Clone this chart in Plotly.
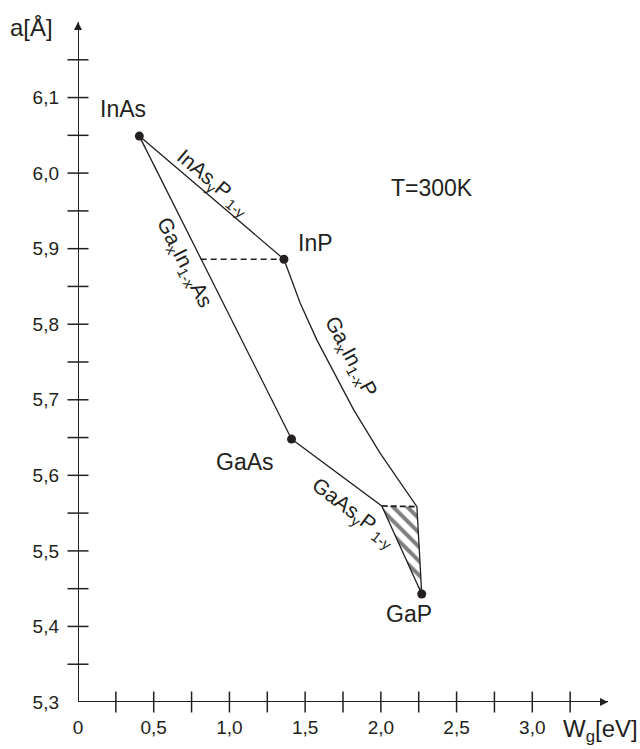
import plotly.graph_objects as go

# ---------------- data ----------------
compounds = ["InAs", "InP", "GaAs", "GaP"]
gap_ev = [0.405, 1.36, 1.41, 2.27]
lattice_a = [6.049, 5.886, 5.648, 5.443]

inasp_x = [0.405, 1.36]
inasp_y = [6.049, 5.886]
gainas_x = [0.405, 1.41]
gainas_y = [6.049, 5.648]
gainp_x = [1.36, 1.467, 1.578, 1.82, 1.996, 2.238, 2.27]
gainp_y = [5.886, 5.828, 5.779, 5.687, 5.629, 5.5585, 5.443]
gaasp_x = [1.41, 2.006, 2.27]
gaasp_y = [5.648, 5.5595, 5.443]
cross_x = [2.006, 2.238, 2.27]
cross_y = [5.5595, 5.5585, 5.443]
dash_x = [0.81, 1.36]
dash_y = [5.886, 5.886]

x_axis_range = [0, 3.5]
y_axis_range = [5.3, 6.2]
x_tick_vals = [0, 0.5, 1.0, 1.5, 2.0, 2.5, 3.0]
x_tick_text = ["0", "0,5", "1,0", "1,5", "2,0", "2,5", "3,0"]
x_tick_marks = [0.25, 0.5, 0.75, 1.0, 1.25, 1.5, 1.75, 2.0, 2.25, 2.5, 2.75, 3.0, 3.25]
y_tick_vals = [5.3, 5.4, 5.5, 5.6, 5.7, 5.8, 5.9, 6.0, 6.1]
y_tick_text = ["5,3", "5,4", "5,5", "5,6", "5,7", "5,8", "5,9", "6,0", "6,1"]
y_tick_marks = [5.35, 5.4, 5.45, 5.5, 5.55, 5.6, 5.65, 5.7, 5.75, 5.8, 5.85,
                5.9, 5.95, 6.0, 6.05, 6.1, 6.15]

INK = "#231f20"
FONT = "Liberation Sans, Arial, sans-serif"

fig = go.Figure()

def line(xs, ys, dash="solid", w=1.3):
    fig.add_trace(go.Scatter(x=xs, y=ys, mode="lines", hoverinfo="skip",
                             line=dict(color=INK, width=w, dash=dash),
                             showlegend=False, cliponaxis=False))

# hatched crossover region
fig.add_trace(go.Scatter(x=cross_x + [cross_x[0]], y=cross_y + [cross_y[0]],
                         mode="lines", fill="toself", fillcolor="rgba(0,0,0,0)",
                         fillpattern=dict(shape="\\", fgcolor="#000000", bgcolor="white",
                                          size=10, solidity=0.4),
                         line=dict(width=0, color="rgba(0,0,0,0)"),
                         showlegend=False, hoverinfo="skip"))

# axes lines
line([x_axis_range[0], x_axis_range[0]], y_axis_range, w=2)
line(x_axis_range, [y_axis_range[0], y_axis_range[0]], w=2)

line(inasp_x, inasp_y)
line(gainas_x, gainas_y)
line(gainp_x, gainp_y)
line(gaasp_x, gaasp_y)
line(dash_x, dash_y, dash="6px,4px")
line(cross_x[:2], cross_y[:2], dash="6px,3px", w=1.8)

# arrow heads
fig.add_trace(go.Scatter(x=[x_axis_range[0]], y=[y_axis_range[1]], mode="markers",
                         marker=dict(symbol="arrow-up", size=8, color=INK, line=dict(width=0)),
                         showlegend=False, cliponaxis=False, hoverinfo="skip"))
fig.add_trace(go.Scatter(x=[x_axis_range[1]], y=[y_axis_range[0]], mode="markers",
                         marker=dict(symbol="arrow-right", size=8, color=INK, line=dict(width=0)),
                         showlegend=False, cliponaxis=False, hoverinfo="skip"))

# tick marks crossing the axes
fig.add_trace(go.Scatter(x=[0] * len(y_tick_marks), y=y_tick_marks, mode="markers",
                         marker=dict(symbol="line-ew", size=15, line=dict(width=1.5, color=INK)),
                         showlegend=False, cliponaxis=False, hoverinfo="skip"))
fig.add_trace(go.Scatter(x=x_tick_marks, y=[5.3] * len(x_tick_marks), mode="markers",
                         marker=dict(symbol="line-ns", size=15, line=dict(width=1.5, color=INK)),
                         showlegend=False, cliponaxis=False, hoverinfo="skip"))

# compound points
fig.add_trace(go.Scatter(x=gap_ev, y=lattice_a, mode="markers",
                         marker=dict(color=INK, size=9),
                         showlegend=False, cliponaxis=False, hoverinfo="skip"))

def label(x, y, txt, size=23, angle=0):
    fig.add_annotation(x=x, y=y, xref="x", yref="y", text=txt, showarrow=False,
                       textangle=angle, xanchor="center", yanchor="middle",
                       font=dict(family=FONT, size=size, color=INK))

label(0.297, 6.085, "InAs")
label(1.566, 5.907, "InP")
label(1.104, 5.617, "GaAs")
label(2.183, 5.417, "GaP")
label(2.338, 5.980, "T=300K")
label(0.894, 5.987, "InAs<sub>y</sub>P<sub> 1-y</sub>", size=21, angle=40)
label(0.70, 5.881, "Ga<sub>x</sub>In<sub>1-x</sub>As", size=21, angle=63)
label(1.80, 5.757, "Ga<sub>x</sub>In<sub>1-x</sub>P", size=21, angle=62)
label(1.82, 5.550, "GaAs<sub>y</sub>P<sub> 1-y</sub>", size=21, angle=37)

L, R, T, B = 78, 32, 22, 47
W, H = 640, 749
pw, ph = W - L - R, H - T - B

def title(px, py, txt):
    fig.add_annotation(x=(px - L) / pw, y=1 - (py - T) / ph, xref="paper", yref="paper",
                       text=txt, showarrow=False, xanchor="center", yanchor="middle",
                       font=dict(family=FONT, size=24, color=INK))

title(31, 28, "a[Å]")
title(600, 730, "W<sub>g</sub>[eV]")

fig.update_layout(
    width=W, height=H,
    margin=dict(l=L, r=R, t=T, b=B, pad=0),
    paper_bgcolor="white", plot_bgcolor="white",
    font=dict(family=FONT, color=INK),
    xaxis=dict(range=x_axis_range, showgrid=False, zeroline=False, showline=False,
               tickvals=x_tick_vals, ticktext=x_tick_text, ticks="",
               tickfont=dict(size=19, family=FONT, color=INK), ticklabelstandoff=12),
    yaxis=dict(range=y_axis_range, showgrid=False, zeroline=False, showline=False,
               tickvals=y_tick_vals, ticktext=y_tick_text, ticks="",
               tickfont=dict(size=19, family=FONT, color=INK), ticklabelstandoff=18),
)

fig.write_html("out.html")
